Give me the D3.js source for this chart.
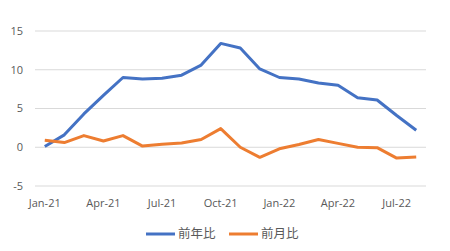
<!DOCTYPE html>
<html>
<head>
<meta charset="utf-8">
<script src="https://cdn.jsdelivr.net/npm/d3@7"></script>
<style>
  body { margin: 0; background: #fff; }
  svg { display: block; font-family: "Open Sans", "Noto Sans CJK JP", sans-serif; }
</style>
</head>
<body>
<div id="chart"></div>
<script>
const months = ["Jan-21","Feb-21","Mar-21","Apr-21","May-21","Jun-21","Jul-21","Aug-21","Sep-21","Oct-21",
                "Nov-21","Dec-21","Jan-22","Feb-22","Mar-22","Apr-22","May-22","Jun-22","Jul-22","Aug-22"];
const tickLabels = ["Jan-21","Apr-21","Jul-21","Oct-21","Jan-22","Apr-22","Jul-22"];
const yoy = [0.1, 1.6, 4.3, 6.7, 9.0, 8.8, 8.9, 9.3, 10.6, 13.4, 12.8, 10.1, 9.0, 8.8, 8.3, 8.0, 6.4, 6.1, 4.1, 2.2];
const mom = [0.9, 0.6, 1.5, 0.8, 1.5, 0.15, 0.4, 0.55, 1.0, 2.4, 0.0, -1.3, -0.2, 0.35, 1.0, 0.5, 0.0, -0.05, -1.4, -1.25];
const yTicks = [-5, 0, 5, 10, 15];
const seriesNames = ["前年比", "前月比"];

const width = 450, height = 251;
const svg = d3.select("#chart").append("svg")
    .attr("width", width)
    .attr("height", height);

const x = d3.scalePoint()
    .domain(months)
    .range([35, 426])
    .padding(0.5);

const y = d3.scaleLinear()
    .domain([-5, 15])
    .range([186, 31]);

// gridlines
svg.append("g")
    .selectAll("line")
    .data(yTicks)
    .enter()
    .append("line")
    .attr("x1", 35)
    .attr("x2", 426)
    .attr("y1", d => y(d))
    .attr("y2", d => y(d))
    .attr("stroke", "#d9d9d9")
    .attr("stroke-width", 1);

// y labels
svg.append("g")
    .selectAll("text")
    .data(yTicks)
    .enter()
    .append("text")
    .attr("x", 23)
    .attr("y", d => y(d))
    .attr("dy", "0.35em")
    .attr("text-anchor", "end")
    .attr("font-size", 11)
    .attr("fill", "#595959")
    .text(d => d);

// x labels
svg.append("g")
    .selectAll("text")
    .data(tickLabels)
    .enter()
    .append("text")
    .attr("x", d => x(d))
    .attr("y", 207)
    .attr("text-anchor", "middle")
    .attr("font-size", 11)
    .attr("fill", "#595959")
    .text(d => d);

const colors = ["#4472c4", "#ed7d31"];
const line = d3.line()
    .x((d, i) => x(months[i]))
    .y(d => y(d));

[yoy, mom].forEach((data, k) => {
    svg.append("path")
        .datum(data)
        .attr("fill", "none")
        .attr("stroke", colors[k])
        .attr("stroke-width", 3)
        .attr("stroke-linejoin", "round")
        .attr("d", line);
});

// legend
const legendX = [146, 229];
seriesNames.forEach((name, k) => {
    const g = svg.append("g").attr("transform", `translate(${legendX[k]}, 234)`);
    g.append("line")
        .attr("x1", 0).attr("x2", 29)
        .attr("y1", 0).attr("y2", 0)
        .attr("stroke", colors[k])
        .attr("stroke-width", 3);
    g.append("text")
        .attr("x", 32)
        .attr("y", 0)
        .attr("dy", "0.35em")
        .attr("font-size", 12.5)
        .attr("font-family", "Noto Sans CJK JP")
        .attr("fill", "#595959")
        .text(name);
});
</script>
</body>
</html>
